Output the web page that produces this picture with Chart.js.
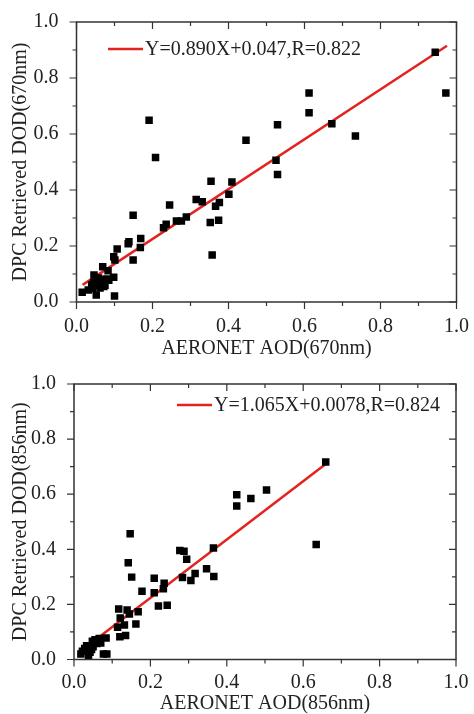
<!DOCTYPE html>
<html>
<head>
<meta charset="utf-8">
<script src="https://cdn.jsdelivr.net/npm/chart.js"></script>
<style>
  html, body { margin: 0; padding: 0; background: #fff; }
  canvas { display: block; }
</style>
</head>
<body>
<canvas id="chart670" width="474" height="362"></canvas>
<canvas id="chart856" width="474" height="352"></canvas>
<script>
// values
const aodX670 = [0.191, 0.208, 0.446, 0.944, 0.972, 0.612, 0.612, 0.672, 0.734, 0.529, 0.525, 0.529,
  0.354, 0.409, 0.401, 0.315, 0.331, 0.376, 0.366, 0.245, 0.149, 0.289, 0.276, 0.263, 0.236, 0.229,
  0.352, 0.374, 0.357, 0.138, 0.136, 0.169, 0.168, 0.149, 0.107, 0.098, 0.101, 0.069, 0.083, 0.098,
  0.015, 0.052, 0.100,
  0.031, 0.040, 0.045, 0.050, 0.055, 0.060, 0.065, 0.070, 0.075, 0.080, 0.062, 0.072, 0.085, 0.046, 0.042, 0.058];
const dodY670 = [0.649, 0.516, 0.578, 0.892, 0.746, 0.746, 0.676, 0.637, 0.593, 0.633, 0.506, 0.455,
  0.431, 0.429, 0.385, 0.366, 0.358, 0.355, 0.342, 0.346, 0.310, 0.304, 0.289, 0.289, 0.278, 0.265,
  0.284, 0.292, 0.168, 0.215, 0.208, 0.227, 0.195, 0.150, 0.189, 0.162, 0.150, 0.126, 0.112, 0.088,
  0.035, 0.025, 0.021,
  0.043, 0.062, 0.070, 0.058, 0.075, 0.065, 0.080, 0.072, 0.060, 0.082, 0.050, 0.055, 0.078, 0.096, 0.048, 0.086];
const fitX670 = [0.016, 0.975];
const fitY670 = [0.061, 0.915];

const aodX856 = [0.426, 0.426, 0.463, 0.504, 0.659, 0.634, 0.147, 0.142, 0.151, 0.277, 0.288, 0.295,
  0.365, 0.347, 0.366, 0.317, 0.306, 0.284, 0.210, 0.236, 0.234, 0.210, 0.178, 0.221, 0.244, 0.117,
  0.139, 0.168, 0.145, 0.121, 0.162, 0.132, 0.114, 0.135, 0.120, 0.084,
  0.018, 0.022, 0.028, 0.033, 0.038, 0.042, 0.046, 0.050, 0.055, 0.060, 0.066, 0.070, 0.048, 0.077, 0.086];
const dodY856 = [0.598, 0.557, 0.584, 0.615, 0.717, 0.417, 0.456, 0.351, 0.299, 0.396, 0.393, 0.364,
  0.405, 0.329, 0.301, 0.312, 0.287, 0.298, 0.295, 0.277, 0.257, 0.242, 0.248, 0.194, 0.197, 0.183,
  0.180, 0.173, 0.165, 0.151, 0.129, 0.125, 0.117, 0.087, 0.083, 0.078,
  0.020, 0.030, 0.040, 0.050, 0.014, 0.026, 0.036, 0.046, 0.072, 0.058, 0.076, 0.060, 0.066, 0.020, 0.020];
const fitX856 = [0.023, 0.659];
const fitY856 = [0.036, 0.710];

const tickValues = [0, 0.2, 0.4, 0.6, 0.8, 1.0];

const SERIF = "'Liberation Serif', 'Times New Roman', serif";
const INK = '#222';

function pts(xs, ys) {
  return xs.map((x, i) => ({ x: x, y: ys[i] }));
}

// frame + Origin style ticks (outward bottom/left, inward top/right)
const framePlugin = {
  id: 'frame',
  afterDraw(chart) {
    const ctx = chart.ctx;
    const a = chart.chartArea;
    const xs = chart.scales.x, ys = chart.scales.y;
    ctx.save();
    ctx.strokeStyle = '#333';
    ctx.lineWidth = 1.5;
    ctx.strokeRect(a.left, a.top, a.right - a.left, a.bottom - a.top);
    ctx.lineWidth = 1.2;
    ctx.beginPath();
    for (let i = 0; i <= 10; i++) {
      const v = i / 10;
      const len = i % 2 === 0 ? 7 : 4;
      const px = xs.getPixelForValue(v);
      const py = ys.getPixelForValue(v);
      ctx.moveTo(px, a.bottom); ctx.lineTo(px, a.bottom + len);
      ctx.moveTo(px, a.top); ctx.lineTo(px, a.top + len);
      ctx.moveTo(a.left, py); ctx.lineTo(a.left - len, py);
      ctx.moveTo(a.right, py); ctx.lineTo(a.right - len, py);
    }
    ctx.stroke();
    ctx.restore();
  }
};

// legend drawn inside the plot
const fitLegend = {
  id: 'fitLegend',
  afterDraw(chart, args, opts) {
    const ctx = chart.ctx;
    const ds = chart.data.datasets[1];
    ctx.save();
    ctx.strokeStyle = ds.borderColor;
    ctx.lineWidth = 2.5;
    ctx.beginPath();
    ctx.moveTo(opts.x, opts.y);
    ctx.lineTo(opts.x + 35, opts.y);
    ctx.stroke();
    ctx.fillStyle = INK;
    ctx.font = '20px ' + SERIF;
    ctx.textBaseline = 'middle';
    ctx.fillText(ds.label, opts.x + 37, opts.y + 1);
    ctx.restore();
  }
};

function makeChart(id, xs, ys, fx, fy, label, xTitle, yTitle, lay) {
  return new Chart(document.getElementById(id), {
    type: 'scatter',
    data: {
      datasets: [{
        label: 'data',
        data: pts(xs, ys),
        pointStyle: 'rect',
        pointRadius: 5.3,
        pointBackgroundColor: '#000',
        pointBorderWidth: 0
      }, {
        type: 'line',
        label: label,
        data: pts(fx, fy),
        borderColor: '#e3231f',
        borderWidth: 2.5,
        pointRadius: 0,
        fill: false
      }]
    },
    options: {
      responsive: false,
      animation: false,
      layout: { padding: { top: lay.top, right: lay.right, left: 0, bottom: 0 } },
      plugins: {
        legend: { display: false },
        tooltip: { enabled: false },
        fitLegend: { x: lay.legX, y: lay.legY }
      },
      scales: {
        x: {
          type: 'linear', min: 0, max: 1,
          afterBuildTicks: s => { s.ticks = tickValues.map(v => ({ value: v })); },
          afterFit: s => { s.height = lay.xh; },
          grid: { display: false },
          border: { display: false },
          ticks: { color: INK, font: { family: SERIF, size: 20 }, padding: lay.xpad,
            callback: v => v.toFixed(1) },
          title: { display: true, text: xTitle, color: INK,
            font: { family: SERIF, size: 20, lineHeight: lay.xlh }, padding: { top: 0, bottom: lay.xtp } }
        },
        y: {
          type: 'linear', min: 0, max: 1,
          afterBuildTicks: s => { s.ticks = tickValues.map(v => ({ value: v })); },
          afterFit: s => { s.width = lay.yw; },
          grid: { display: false },
          border: { display: false },
          ticks: { color: INK, font: { family: SERIF, size: 20 }, padding: 10,
            callback: v => v.toFixed(1) },
          title: { display: true, text: yTitle, color: INK,
            font: { family: SERIF, size: 20 }, padding: { top: 9, bottom: 0 } }
        }
      }
    },
    plugins: [framePlugin, fitLegend]
  });
}

makeChart('chart670', aodX670, dodY670, fitX670, fitY670,
  'Y=0.890X+0.047,R=0.822', 'AERONET AOD(670nm)', 'DPC Retrieved DOD(670nm)',
  { top: 21.5, right: 16, yw: 76.5, xh: 60, xtp: 1, xlh: 1.2, xpad: 5, legX: 108, legY: 49 });

makeChart('chart856', aodX856, dodY856, fitX856, fitY856,
  'Y=1.065X+0.0078,R=0.824', 'AERONET AOD(856nm)', 'DPC Retrieved DOD(856nm)',
  { top: 17, right: 18, yw: 74, xh: 54.5, xtp: 0, xlh: 1.0, xpad: 3, legX: 177, legY: 43 });
</script>
</body>
</html>
